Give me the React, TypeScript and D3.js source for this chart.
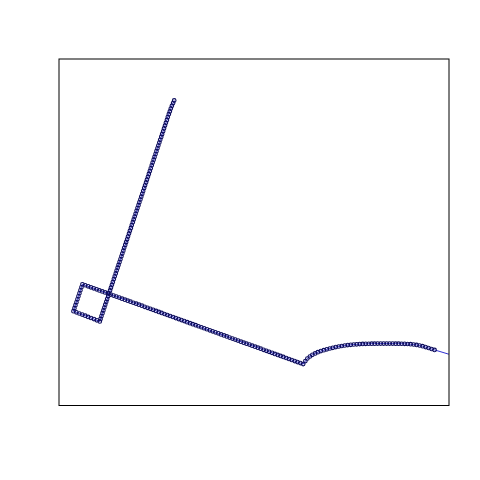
import React from 'react';
import * as d3 from 'd3';

// track positions (local easting / northing units)
const trackX = [
  101.0, 99.9, 98.7, 97.6, 96.6, 95.6, 94.6, 93.7, 92.7, 91.8, 90.8, 89.9, 88.9, 88.0, 87.0, 86.1,
  85.1, 84.2, 83.2, 82.3, 81.3, 80.4, 79.4, 78.5, 77.5, 76.6, 75.6, 74.7, 73.7, 72.8, 71.8, 70.9,
  69.9, 69.0, 68.0, 67.1, 66.1, 65.2, 64.2, 63.3, 62.3, 61.4, 60.4, 59.5, 58.5, 57.6, 56.6, 55.7,
  54.7, 53.8, 52.8, 51.9, 50.9, 50.0, 49.0, 48.1, 47.1, 46.2, 45.2, 44.3, 43.3, 42.4, 41.4, 40.5,
  39.5, 38.6, 37.6, 36.7, 35.7, 34.8, 33.8, 32.9, 31.9, 31.0, 30.0, 29.1, 28.1, 27.2, 26.4,
  23.5, 20.6, 17.6, 14.7, 11.8, 8.8, 5.9, 2.9, 0.0,
  1.0, 2.0, 3.0, 4.0, 5.0, 6.0, 7.0, 8.0, 9.0,
  11.8, 14.7, 17.5, 20.3, 23.2, 26.0, 28.9, 31.7, 34.5, 37.4, 40.2, 43.0, 45.9, 48.7, 51.6, 54.4,
  57.2, 60.1, 62.9, 65.7, 68.6, 71.4, 74.3, 77.1, 79.9, 82.8, 85.6, 88.4, 91.3, 94.1, 96.9, 99.8,
  102.6, 105.5, 108.3, 111.1, 114.0, 116.8, 119.6, 122.5, 125.3, 128.2, 131.0, 133.8, 136.7, 139.5,
  142.3, 145.2, 148.0, 150.9, 153.7, 156.5, 159.4, 162.2, 165.0, 167.9, 170.7, 173.5, 176.4, 179.2,
  182.1, 184.9, 187.7, 190.6, 193.4, 196.2, 199.1, 201.9, 204.8, 207.6, 210.4, 213.3, 216.1, 218.9,
  221.8, 224.6, 227.5, 230.3,
  232.5, 234.5, 237.0, 239.5, 242.3, 245.0, 248.0, 251.0, 254.0, 257.0, 260.0, 263.0, 266.0, 269.0,
  272.0, 275.0, 278.0, 281.0, 284.0, 287.0, 290.0, 293.0, 296.0, 299.0, 302.0, 305.0, 308.0, 311.0,
  314.0, 317.0, 320.0, 323.0, 326.0, 329.0, 332.0, 335.0, 338.0, 341.0, 344.0, 347.0, 350.0, 353.0,
  356.0, 359.0, 362.0,
];
const trackY = [
  264.3, 261.6, 258.9, 256.1, 253.3, 250.5, 247.6, 244.8, 241.9, 239.1, 236.2, 233.4, 230.5, 227.7, 224.8, 222.0,
  219.1, 216.3, 213.4, 210.6, 207.7, 204.9, 202.0, 199.2, 196.3, 193.5, 190.6, 187.8, 184.9, 182.1, 179.2, 176.4,
  173.5, 170.7, 167.8, 165.0, 162.1, 159.3, 156.4, 153.6, 150.7, 147.9, 145.0, 142.2, 139.3, 136.5, 133.6, 130.8,
  127.9, 125.1, 122.2, 119.4, 116.5, 113.7, 110.8, 108.0, 105.1, 102.3, 99.4, 96.6, 93.7, 90.9, 88.0, 85.2,
  82.3, 79.5, 76.6, 73.8, 70.9, 68.1, 65.2, 62.4, 59.5, 56.7, 53.8, 51.0, 48.1, 45.3, 42.8,
  43.9, 45.1, 46.2, 47.3, 48.5, 49.6, 50.7, 51.9, 53.0,
  56.0, 59.0, 62.0, 65.0, 68.0, 71.0, 74.0, 77.0, 80.0,
  79.0, 77.9, 76.9, 75.9, 74.9, 73.8, 72.8, 71.8, 70.8, 69.7, 68.7, 67.7, 66.7, 65.6, 64.6, 63.6,
  62.6, 61.5, 60.5, 59.5, 58.5, 57.4, 56.4, 55.4, 54.4, 53.3, 52.3, 51.3, 50.2, 49.2, 48.2, 47.2,
  46.1, 45.1, 44.1, 43.1, 42.0, 41.0, 40.0, 39.0, 37.9, 36.9, 35.9, 34.9, 33.8, 32.8,
  31.8, 30.8, 29.7, 28.7, 27.7, 26.6, 25.6, 24.6, 23.6, 22.5, 21.5, 20.5, 19.5, 18.4,
  17.4, 16.4, 15.4, 14.3, 13.3, 12.3, 11.3, 10.2, 9.2, 8.2, 7.2, 6.1, 5.1, 4.1,
  3.0, 2.0, 1.0, 0.0,
  3.0, 5.6, 7.6, 9.3, 10.7, 11.9, 13.0, 13.9, 14.8, 15.6, 16.3, 17.0, 17.6, 18.1,
  18.6, 19.0, 19.3, 19.6, 19.8, 20.0, 20.2, 20.3, 20.4, 20.5, 20.5, 20.6, 20.6, 20.6,
  20.6, 20.6, 20.6, 20.5, 20.5, 20.4, 20.3, 20.1, 19.9, 19.6, 19.2, 18.6, 17.9, 17.0,
  16.1, 15.1, 14.2,
];
// continuation of the path drawn with lines() only, past the last fix
const tailX = [376.0, 407.0];
const tailY = [10.0, 1.0];

export default function App() {
  const width = 480;
  const height = 480;
  const left = 59, right = 449, top = 59, bottom = 405.5;

  const pts = trackX.map((x, i) => [x, trackY[i]] as [number, number]);
  const linePts = pts.concat(tailX.map((x, i) => [x, tailY[i]] as [number, number]));

  // x range with R's 4% padding, y set for aspect ratio 1
  const [x0, x1] = d3.extent(trackX) as [number, number];
  const [y0, y1] = d3.extent(trackY) as [number, number];
  const pad = (x1 - x0) * 0.04;
  const xScale = d3.scaleLinear().domain([x0 - pad, x1 + pad]).range([left, right]);
  const unit = (right - left) / (x1 - x0 + 2 * pad);
  const halfY = (bottom - top) / unit / 2;
  const yMid = (y0 + y1) / 2;
  const yScale = d3.scaleLinear().domain([yMid - halfY, yMid + halfY]).range([bottom, top]);

  const line = d3.line<[number, number]>()
    .x((d) => xScale(d[0]))
    .y((d) => yScale(d[1]));

  return (
    <svg width={width} height={height}
      style={{ position: 'absolute', left: 0, top: 0, background: 'white' }}>
      <defs>
        <clipPath id="plotArea">
          <rect x={left} y={top} width={right - left} height={bottom - top} />
        </clipPath>
      </defs>
      <g clipPath="url(#plotArea)">
        <path d={line(linePts) ?? ''} fill="none" stroke="#1a1acc" strokeWidth={0.9} />
        {pts.map((d, i) => (
          <circle key={i} cx={xScale(d[0])} cy={yScale(d[1])} r={1.8}
            fill="none" stroke="#0c0c5c" strokeWidth={1.1} />
        ))}
      </g>
      <rect x={left} y={top} width={right - left} height={bottom - top}
        fill="none" stroke="black" strokeWidth={1} />
    </svg>
  );
}
